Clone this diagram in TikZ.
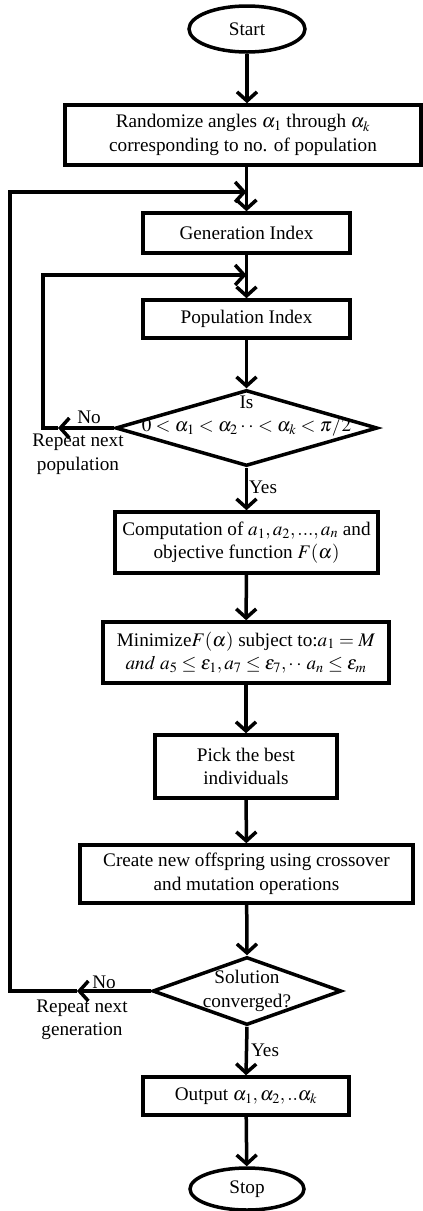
\documentclass[tikz,border=0pt]{standalone}
\usepackage{mathptmx}
\usepackage[no-math]{fontspec}
\setmainfont{Liberation Serif}
\usetikzlibrary{arrows.meta,shapes.geometric}
\tikzset{%
  >={Straight Barb[length=9pt,width=20pt]},
  % Specifications for style of nodes:
      base/.style = {draw=black, line width=3.5pt, align=center,
                     inner sep=2pt},
   process/.style = {base, rectangle},
  terminal/.style = {base, ellipse},
  decision/.style = {base, diamond, inner sep=0pt},
      note/.style = {align=center, inner sep=0pt},
      flow/.style = {line width=3.5pt},
        }
\begin{document}
\begin{tikzpicture}[x=1pt, y=-1pt,
    every node/.style={font=\fontsize{19.2}{23.5}\selectfont}]
  \useasboundingbox (0,0) rectangle (423,1211);
  % Specification of nodes (position, etc.)
  \node (start)  [terminal, minimum width=116, minimum height=46] at (247,29) {Start};
  \node (rand)   [process, minimum width=356, minimum height=60] at (243,135)
        {Randomize angles $\alpha_1$ through $\alpha_k$\\ corresponding to no. of population};
  \node (gen)    [process, minimum width=207, minimum height=40] at (246.5,233) {Generation Index};
  \node (pop)    [process, minimum width=207, minimum height=38] at (246.5,319) {Population Index};
  \node (isok)   [decision, minimum width=262, minimum height=76] at (246.5,428) {};
  \node (isoktx) [note] at (246.5,416) {Is\\ $0<\alpha_1<\alpha_2\cdot\cdot<\alpha_k<\pi/2$};
  \node (comp)   [process, minimum width=263, minimum height=61] at (246.5,542.5)
        {Computation of $a_1,a_2,...,a_n$ and\\ objective function $F(\alpha)$};
  \node (minim)  [process, minimum width=286, minimum height=61] at (246,652.5)
        {Minimize$F(\alpha)$ subject to:$a_1=M$\\ $and\ a_5\le\varepsilon_1,a_7\le\varepsilon_7,\cdot\cdot\,a_n\le\varepsilon_m$};
  \node (pick)   [process, minimum width=182, minimum height=63] at (246,766.5)
        {Pick the best\\ individuals};
  \node (create) [process, minimum width=333, minimum height=58] at (246.5,874)
        {Create new offspring using crossover\\ and mutation operations};
  \node (conv)   [decision, minimum width=189, minimum height=68] at (247,991) {};
  \node (convtx) [note] at (247,991) {Solution\\ converged?};
  \node (out)    [process, minimum width=206, minimum height=38] at (246,1096)
        {Output $\alpha_1,\alpha_2,..\alpha_k$};
  \node (stop)   [terminal, minimum width=114, minimum height=42] at (247,1189) {Stop};

  % labels of the branches
  \node (nopoptx) [note] at (89,417) {No};
  \node (reppop)  [note] at (78,454) {Repeat next\\ population};
  \node (yespop)  [note] at (263,487) {Yes};
  \node (nogentx) [note] at (104,982) {No};
  \node (repgen)  [note] at (82,1020) {Repeat next\\ generation};
  \node (yesgen)  [note] at (265,1050) {Yes};

  % free ends of the loops
  \coordinate (genin)     at (246.5,192);
  \coordinate (popin)     at (246.5,275);
  \coordinate (nopop)     at (58,428);
  \coordinate (popleft)   at (43,428);
  \coordinate (popcorner) at (43,275);
  \coordinate (nogen)     at (77,991);
  \coordinate (genleft)   at (10,991);
  \coordinate (gencorner) at (10,192);

  % Specification of lines between nodes specified above
  \draw[flow,->] (start) -- (rand.north -| start);
  \draw[flow,->] (rand.south -| gen.north) -- (gen.north);
  \draw[flow,->] (gen) -- (pop);
  \draw[flow,->] (pop) -- (isok.north);
  \draw[flow,->] (isok.south) -- (comp.north);
  \draw[flow,->] (comp) -- (minim);
  \draw[flow,->] (minim) -- (pick);
  \draw[flow,->] (pick) -- (create);
  \draw[flow,->] (create) -- (conv.north);
  \draw[flow,->] (conv.south) -- (out.north);
  \draw[flow,->] (out) -- (stop);
  % loops back
  \draw[flow,->] (isok.west) -- (nopop);
  \draw[flow,->] (nopop) -- (popleft) -- (popcorner) -- (popin);
  \draw[flow,->] (conv.west) -- (nogen);
  \draw[flow,->] (nogen) -- (genleft) -- (gencorner) -- (genin);
\end{tikzpicture}
\end{document}
